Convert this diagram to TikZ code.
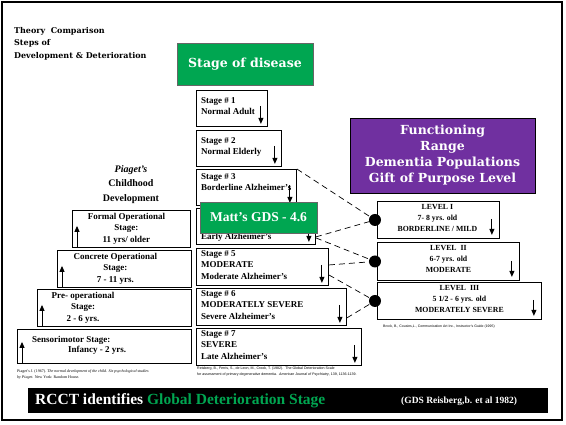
\documentclass[tikz,border=0pt]{standalone}
\usepackage{fontspec}
\setmainfont{Liberation Serif}
\setsansfont{Liberation Sans}
\newfontfamily\heavyfont{DejaVu Serif}
\usetikzlibrary{positioning, arrows.meta}
\definecolor{gdsgreen}{RGB}{0,166,81}
\definecolor{gdspurple}{RGB}{112,48,160}

\tikzset{
  box/.style={draw, line width=0.9pt, fill=white, anchor=north west, inner sep=0pt},
  txt/.style={inner sep=0pt, font=\bfseries\fontsize{9}{11.5}\selectfont},
  ltxt/.style={txt, anchor=north west, align=left},
  ctxt/.style={txt, anchor=north, align=center},
  lvtxt/.style={inner sep=0pt, anchor=north, align=center, font=\bfseries\fontsize{7.8}{11}\selectfont},
  arr/.style={-{Triangle[length=6pt,width=5pt]}, line width=0.9pt},
  dashline/.style={dash pattern=on 6pt off 4pt, line width=0.7pt},
  dot/.style={circle, fill=black, inner sep=0pt, minimum size=12pt},
  cite/.style={inner sep=0pt, anchor=north west, align=left, font=\fontsize{4}{6}\selectfont},
  banner/.style={inner sep=0pt, text=white, align=center}
}

\begin{document}
\begin{tikzpicture}[x=1pt, y=-1pt]
\useasboundingbox (0,0) rectangle (566,424);
\fill[white] (0,0) rectangle (566,424);
\draw[line width=2.5pt] (2,2) rectangle (562,420);

% title
\node[inner sep=0pt, anchor=north west, align=left, font=\heavyfont\bfseries\fontsize{8}{12.5}\selectfont] (title) at (14,27)
  {Theory\ \ Comparison\\Steps of\\Development \& Deterioration};

% stage of disease
\node[banner, fill=gdsgreen, draw=black!60, minimum width=136pt, minimum height=42pt, font=\heavyfont\bfseries\fontsize{12.5}{14}\selectfont] (head) at (245,64) {Stage of disease};

% stages
\node[box, minimum width=71pt, minimum height=36pt] (s1) at (196,90) {};
\node[box, minimum width=85pt, minimum height=36pt] (s2) at (196,130) {};
\node[box, minimum width=100pt, minimum height=36pt] (s3) at (196,169) {};
\node[box, minimum width=119pt, minimum height=36pt] (s4) at (196,208) {};
\node[box, minimum width=132pt, minimum height=37pt] (s5) at (196,248) {};
\node[box, minimum width=150pt, minimum height=37pt] (s6) at (196,288) {};
\node[box, minimum width=165pt, minimum height=37pt] (s7) at (196,328) {};

\node[ltxt] (s1t) at ([xshift=5pt,yshift=-7pt]s1.north west) {Stage \# 1\\Normal Adult};
\node[ltxt] (s2t) at ([xshift=5pt,yshift=-7pt]s2.north west) {Stage \# 2\\Normal Elderly};
\node[ltxt] (s3t) at ([xshift=5pt,yshift=-4pt]s3.north west) {Stage \# 3\\Borderline Alzheimer's};
\node[ltxt, anchor=south west] (s4t) at ([xshift=5pt,yshift=3pt]s4.south west) {Early Alzheimer's};
\node[ltxt] (s5t) at ([xshift=5pt,yshift=-2pt]s5.north west) {Stage \# 5\\MODERATE\\Moderate Alzheimer's};
\node[ltxt] (s6t) at ([xshift=5pt,yshift=-2pt]s6.north west) {Stage \# 6\\MODERATELY SEVERE\\Severe Alzheimer's};
\node[ltxt] (s7t) at ([xshift=5pt,yshift=-2pt]s7.north west) {Stage \# 7\\SEVERE\\Late Alzheimer's};

\foreach \s in {s1,s2,s3,s4,s5,s6,s7}
  \draw[arr] ([xshift=-7pt,yshift=21pt]\s.south east) -- ([xshift=-7pt,yshift=3pt]\s.south east);

% piaget
\node[ctxt, font=\bfseries\fontsize{10}{14.5}\selectfont] (pia) at (131,165) {\textit{Piaget's}\\Childhood\\Development};

\node[box, minimum width=118pt, minimum height=37pt] (p1) at (72,210) {};
\node[box, minimum width=134pt, minimum height=37pt] (p2) at (57,250) {};
\node[box, minimum width=154pt, minimum height=37pt] (p3) at (37,289) {};
\node[box, minimum width=174pt, minimum height=34pt] (p4) at (17,329) {};

\node[ctxt] (p1t) at ([xshift=-5pt,yshift=-3pt]p1.north) {Formal Operational\\Stage:\\11 yrs/ older};
\node[ctxt] (p2t) at ([xshift=-9pt,yshift=-3pt]p2.north) {Concrete Operational\\Stage:\\7 - 11 yrs.};
\node[ctxt] (p3t) at ([xshift=46pt,yshift=-3pt]p3.north west) {Pre- operational\\Stage:\\2 - 6 yrs.};
\node[ltxt] (p4t) at ([xshift=15pt,yshift=-7pt]p4.north west) {Sensorimotor Stage:};
\node[ltxt] (p4u) at ([xshift=51pt,yshift=-17pt]p4.north west) {Infancy - 2 yrs.};

\foreach \p in {p1,p2,p3,p4}
  \draw[arr] ([xshift=5pt,yshift=1pt]\p.south west) -- ([xshift=5pt,yshift=22pt]\p.south west);

% functioning range
\node[banner, fill=gdspurple, draw=black, line width=0.9pt, minimum width=185pt, minimum height=75pt, font=\heavyfont\bfseries\fontsize{12.5}{16}\selectfont] (func) at (442.5,155.5)
  {Functioning\\Range\\Dementia Populations\\Gift of Purpose Level};

\node[box, minimum width=122pt, minimum height=37pt] (l1) at (377,201) {};
\node[box, minimum width=142pt, minimum height=38pt] (l2) at (377,242) {};
\node[box, minimum width=164pt, minimum height=37pt] (l3) at (377,282) {};

\node[lvtxt] (l1t) at ([xshift=-1pt,yshift=-3pt]l1.north) {LEVEL I\\7- 8 yrs. old\\BORDERLINE / MILD};
\node[lvtxt] (l2t) at ([yshift=-3pt]l2.north) {LEVEL\ \ II\\6-7 yrs. old\\MODERATE};
\node[lvtxt] (l3t) at ([yshift=-3pt]l3.north) {LEVEL\ \ III\\5 1/2 - 6 yrs. old\\MODERATELY SEVERE};

\foreach \l in {l1,l2,l3}
  \draw[arr] ([xshift=-8pt,yshift=20pt]\l.south east) -- ([xshift=-8pt,yshift=4pt]\l.south east);

\node[dot] (d1) at ([xshift=-2pt]l1.west) {};
\node[dot] (d2) at ([xshift=-2pt]l2.west) {};
\node[dot] (d3) at ([xshift=-2pt]l3.west) {};

\draw[dashline] (s3.north east) -- (d1.center);
\draw[dashline] ([yshift=8pt]s4.south east) -- (d1.center);
\draw[dashline] ([yshift=7pt]s4.south east) -- (d2.center);
\draw[dashline] ([yshift=2pt]s5.east) -- (d2.center);
\draw[dashline] ([yshift=-8pt]s5.east) -- (d3.center);
\draw[dashline] ([yshift=8pt]s6.south east) -- (d3.center);

% matt's score
\node[banner, fill=gdsgreen, draw=black!60, minimum width=117pt, minimum height=31pt, font=\bfseries\fontsize{13.5}{15}\selectfont] (matt) at (258.5,217.5) {Matt's GDS - 4.6};

% references
\node[cite] (ref1) at (17,369) {Piaget's J. (1967). \textit{The normal development of the child. Six psychological studies}\\\textit{by Piaget.} New York: Random House.};
\node[cite, font=\sffamily\fontsize{3.6}{6}\selectfont] (ref2) at (197,367) {Reisberg, B., Ferris, S., de Leon, M., Crook, T. (1982).\ \ The Global Deterioration Scale\\for assessment of primary degenerative dementia.\ \ \textit{American Journal of Psychiatry}, 139, 1136-1139.};
\node[cite, font=\sffamily\fontsize{3.5}{5}\selectfont] (ref3) at (383,325) {Brock, B., Cousins,L., Communication Art Inc., Instructor's Guide (1995)};

% bottom bar
\node[fill=black, inner sep=0pt, minimum width=520pt, minimum height=25pt] (bar) at (288,400.5) {};
\node[inner sep=0pt, anchor=west, text=white, font=\bfseries\fontsize{15.5}{17}\selectfont] (rcct) at (35,400.5) {RCCT identifies \textcolor{gdsgreen}{Global Deterioration Stage}};
\node[inner sep=0pt, anchor=west, text=white, font=\bfseries\fontsize{9.5}{11}\selectfont] (gds) at (401,401) {(GDS Reisberg,b. et al 1982)};
\end{tikzpicture}
\end{document}
